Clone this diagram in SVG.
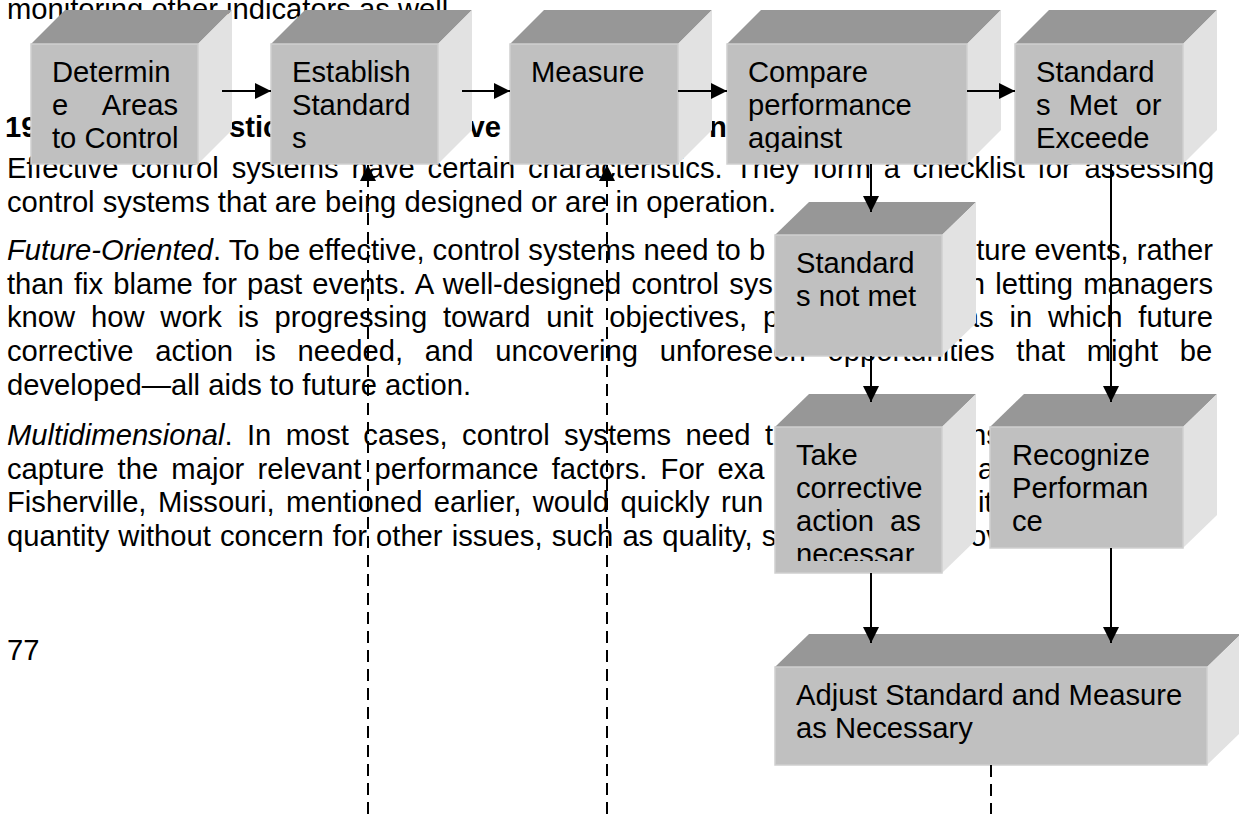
<svg xmlns="http://www.w3.org/2000/svg" width="1239" height="814" viewBox="0 0 1239 814">
<style>
.t{font-family:"Liberation Sans",Arial,sans-serif;font-size:29.2px;fill:#000}
.b{font-weight:bold}
.i{font-style:italic}
.front{fill:#c0c0c0;stroke:#cfcfcf;stroke-width:1.5}
.top{fill:#979797}
.side{fill:#e2e2e2}
.c{stroke:#000;stroke-width:2;fill:none}
.ar{marker-end:url(#ah)}
.d{stroke-dasharray:12 7}
</style>
<defs>
<marker id="ah" markerUnits="userSpaceOnUse" markerWidth="16" markerHeight="16" refX="16" refY="8" orient="auto" viewBox="0 0 16 16"><path d="M0,0 L16,8 L0,16 z" fill="#000"/></marker>
<clipPath id="c4"><rect x="727" y="44" width="240" height="108"/></clipPath>
<clipPath id="c7"><rect x="775" y="427" width="167" height="134"/></clipPath>
</defs>
<rect width="1239" height="814" fill="#fff"/>
<g id="page-text" class="t">
<text x="7" y="19">monitoring other indicators as well.</text>
<text class="t b" x="5" y="137">19</text>
<text class="t b" x="229" y="137">stic</text>
<text class="t b" x="501" y="137" text-anchor="end">ve</text>
<text class="t b" x="709" y="137">n</text>
<text x="7" y="178" word-spacing="4.7">Effective control systems have certain characteristics. They form a checklist for assessing</text>
<text x="7" y="211.7">control systems that are being designed or are in operation.</text>
<text x="7" y="260"><tspan class="i">Future-Oriented</tspan>. To be effective, control systems need to b</text>
<text x="1213" y="260" text-anchor="end">ture events, rather</text>
<text x="7" y="293.7" word-spacing="2">than fix blame for past events. A well-designed control sys</text>
<text x="1213" y="293.7" text-anchor="end" word-spacing="2">n letting managers</text>
<text x="7" y="327.4" word-spacing="7.7">know how work is progressing toward unit objectives, p</text>
<text x="1213" y="327.4" text-anchor="end" word-spacing="7.7">as in which future</text>
<text x="7" y="361.1" word-spacing="13.6">corrective action is needed, and uncovering unforeseen opportunities that might be</text>
<text x="7" y="394.8">developed—all aids to future action.</text>
<text x="7" y="445" word-spacing="6.3"><tspan class="i">Multidimensional</tspan>. In most cases, control systems need t</text>
<text x="970" y="445">ns</text>
<text x="7" y="478.7" word-spacing="5.1">capture the major relevant performance factors. For exa</text>
<text x="978" y="478.7">a</text>
<text x="7" y="512.4" word-spacing="3.3">Fisherville, Missouri, mentioned earlier, would quickly run</text>
<text x="978" y="512.4">it</text>
<text x="7" y="546.1" word-spacing="1">quantity without concern for other issues, such as quality, s</text>
<text x="970" y="546.1">ov</text>
<text x="7" y="660">77</text>
</g>
<g id="n1">
<polygon class="top" points="31,44 65,10 232,10 198,44"/>
<polygon class="side" points="198,44 232,10 232,130 198,164"/>
<rect class="front" x="31" y="44" width="167" height="120"/>
<text class="t" x="52" y="82">Determin</text>
<text class="t" x="52" y="115">e</text>
<text class="t" x="178" y="115" text-anchor="end">Areas</text>
<text class="t" x="52" y="148">to Control</text>
</g>
<g id="n2">
<polygon class="top" points="271,44 305,10 472,10 438,44"/>
<polygon class="side" points="438,44 472,10 472,130 438,164"/>
<rect class="front" x="271" y="44" width="167" height="120"/>
<text class="t" x="292" y="82">Establish</text>
<text class="t" x="292" y="115">Standard</text>
<text class="t" x="292" y="148">s</text>
</g>
<g id="n3">
<polygon class="top" points="510,44 544,10 712,10 678,44"/>
<polygon class="side" points="678,44 712,10 712,130 678,164"/>
<rect class="front" x="510" y="44" width="168" height="120"/>
<text class="t" x="531" y="82">Measure</text>
</g>
<g id="n4">
<polygon class="top" points="727,44 761,10 1001,10 967,44"/>
<polygon class="side" points="967,44 1001,10 1001,130 967,164"/>
<rect class="front" x="727" y="44" width="240" height="120"/>
<g clip-path="url(#c4)">
<text class="t" x="748" y="82">Compare</text>
<text class="t" x="748" y="115">performance</text>
<text class="t" x="748" y="148">against</text>
</g>
</g>
<g id="n5">
<polygon class="top" points="1015,44 1049,10 1217,10 1183,44"/>
<polygon class="side" points="1183,44 1217,10 1217,130 1183,164"/>
<rect class="front" x="1015" y="44" width="168" height="120"/>
<text class="t" x="1036" y="82">Standard</text>
<text class="t" x="1036" y="115" word-spacing="10">s Met or</text>
<text class="t" x="1036" y="148">Exceede</text>
</g>
<g id="n6">
<polygon class="top" points="775,235 809,202 976,202 942,235"/>
<polygon class="side" points="942,235 976,202 976,323 942,356"/>
<rect class="front" x="775" y="235" width="167" height="121"/>
<text class="t" x="796" y="273">Standard</text>
<text class="t" x="796" y="306">s not met</text>
</g>
<g id="n7">
<polygon class="top" points="775,427 809,394 976,394 942,427"/>
<polygon class="side" points="942,427 976,394 976,540 942,573"/>
<rect class="front" x="775" y="427" width="167" height="146"/>
<g clip-path="url(#c7)">
<text class="t" x="796" y="465">Take</text>
<text class="t" x="796" y="498">corrective</text>
<text class="t" x="796" y="531" word-spacing="8">action as</text>
<text class="t" x="796" y="564">necessar</text>
</g>
</g>
<g id="n8">
<polygon class="top" points="990,427 1024,394 1217,394 1183,427"/>
<polygon class="side" points="1183,427 1217,394 1217,515 1183,548"/>
<rect class="front" x="990" y="427" width="193" height="121"/>
<text class="t" x="1012" y="465">Recognize</text>
<text class="t" x="1012" y="498">Performan</text>
<text class="t" x="1012" y="531">ce</text>
</g>
<g id="n9">
<polygon class="top" points="775,667 809,634 1241,634 1207,667"/>
<polygon class="side" points="1207,667 1241,634 1241,732 1207,765"/>
<rect class="front" x="775" y="667" width="432" height="98"/>
<text class="t" x="796" y="705">Adjust Standard and Measure</text>
<text class="t" x="796" y="738">as Necessary</text>
</g>
<g id="connectors">
<line class="c ar" x1="222" y1="91" x2="271" y2="91"/>
<line class="c ar" x1="462" y1="91" x2="510" y2="91"/>
<line class="c ar" x1="678" y1="91" x2="727" y2="91"/>
<line class="c ar" x1="967" y1="91" x2="1015" y2="91"/>
<line class="c ar" x1="871" y1="164" x2="871" y2="212"/>
<line class="c ar" x1="1111" y1="164" x2="1111" y2="402"/>
<line class="c ar" x1="871" y1="356" x2="871" y2="402"/>
<line class="c ar" x1="871" y1="573" x2="871" y2="643"/>
<line class="c ar" x1="1111" y1="548" x2="1111" y2="643"/>
<line class="c d" x1="368" y1="814" x2="368" y2="180"/>
<line class="c ar" x1="368" y1="181" x2="368" y2="165"/>
<line class="c d" x1="607" y1="814" x2="607" y2="180"/>
<line class="c ar" x1="607" y1="181" x2="607" y2="165"/>
<line class="c d" x1="991" y1="765" x2="991" y2="814"/>
</g>
</svg>
